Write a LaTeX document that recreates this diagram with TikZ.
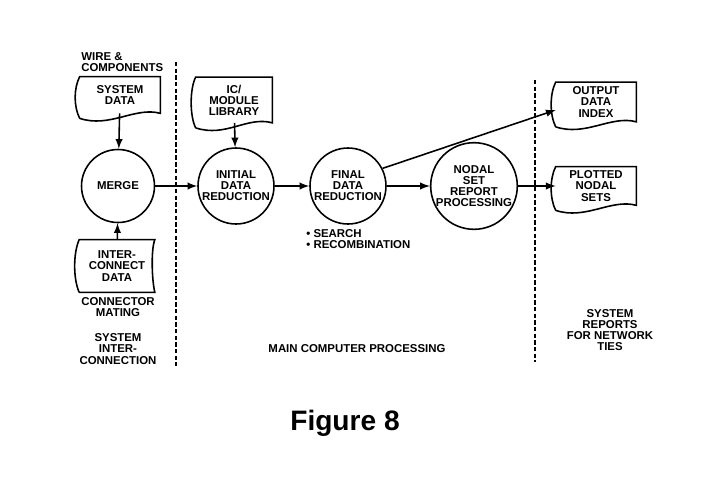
\documentclass[tikz,border=0pt]{standalone}
\usepackage{fontspec}
\setmainfont{Liberation Sans}
\usetikzlibrary{calc}
\usetikzlibrary{arrows,positioning}

\tikzset{
  lbl/.style={font=\fontsize{6.5}{6.3}\selectfont\bfseries,align=center,inner sep=0pt},
  proc/.style={circle,draw=black,line width=0.9pt,minimum size=1.52cm,inner sep=0pt,lbl},
  doc/.style={rectangle,minimum width=1.6cm,minimum height=0.72cm,inner sep=0pt,lbl},
  docline/.style={line width=0.9pt},
  flow/.style={->,>=latex,line width=0.9pt},
  border/.style={line width=1.4pt,dash pattern=on 2.5pt off 1.3pt}
}

%outline of a document symbol round a node
\newcommand{\docoutline}[1]{%
  \draw[docline] ($(#1.south west)+(0,5)$) .. controls +(-6,-12) and +(-6,12) .. (#1.north west)
    -- (#1.north east) -- (#1.south east)
    .. controls +(-25,-7) and +(30,10) .. ($(#1.south west)+(0,5)$);}

\begin{document}
\begin{tikzpicture}[x=0.02cm,y=-0.02cm]

\useasboundingbox (0,0) rectangle (725,481);

%%%%%%%%%%%%%%%%%%%%%

%system interconnection column
\node[lbl,align=left,anchor=west] at (81,62) (wire) {WIRE \&\\COMPONENTS};

\node[doc] at (120,95) (sysdata) {SYSTEM\\DATA};
\docoutline{sysdata}

\node[proc,minimum size=1.46cm] at (118,186) (merge) {MERGE};

\node[doc,minimum width=1.5cm,minimum height=1.04cm] at (117,266) (inter) {INTER-\\CONNECT\\DATA};
\draw[docline] (inter.south west) .. controls +(-6,-14) and +(-6,14) .. (inter.north west)
  -- (inter.north east) .. controls +(-4,10) and +(-3,-12) .. (inter.south east) -- (inter.south west);

\node[lbl] at (118,307) (mating) {CONNECTOR\\MATING};
\node[lbl] at (118,349) (sysinter) {SYSTEM\\INTER-\\CONNECTION};

\draw[flow] (sysdata) -- (merge);
\draw[flow] (inter) -- (merge);

%%%%%%%

%separators
\coordinate (LEFTTOP) at (176,62);
\coordinate (LEFTBOTTOM) at (176,366);
\coordinate (RIGHTTOP) at (535,80);
\coordinate (RIGHTBOTTOM) at (535,362);
\draw[border] (LEFTTOP) -- (LEFTBOTTOM);
\draw[border] (RIGHTTOP) -- (RIGHTBOTTOM);

%%%%%%%

%main computer processing
\node[doc,minimum width=1.52cm,minimum height=0.9cm] at (234,100) (library) {IC/\\MODULE\\LIBRARY};
\docoutline{library}

\node[proc] at (236,186) (initial) {INITIAL\\DATA\\REDUCTION};
\node[proc] at (348,186) (final) {FINAL\\DATA\\REDUCTION};
\node[proc] at (474,186) (nodal) {NODAL\\SET\\REPORT\\PROCESSING};

\node[lbl,align=left,anchor=north west] at (306,229) (steps) {\textbullet{} SEARCH\\\textbullet{} RECOMBINATION};

\node[lbl] at (357,349) (main) {MAIN COMPUTER PROCESSING};

\draw[flow] (merge.east) -- (initial.west);
\draw[flow] (library) -- (initial);
\draw[flow] (initial.east) -- (final.west);
\draw[flow] (final.east) -- (nodal.west);

%%%%%%%

%system reports
\node[doc,minimum height=0.78cm] at (596,102) (output) {OUTPUT\\DATA\\INDEX};
\docoutline{output}

\node[doc,minimum height=0.76cm] at (596,186) (plotted) {PLOTTED\\NODAL\\SETS};
\docoutline{plotted}

\node[lbl] at (610,330) (reports) {SYSTEM\\REPORTS\\FOR NETWORK\\TIES};

\draw[flow] (final.27) -- ($(output.west)+(0,8)$);
\draw[flow] (nodal.east) -- (plotted.west);

%%%%%%%%%%%%%%%%%%%%%%

\node[font=\fontsize{16}{18}\selectfont\bfseries] at (345,423) (caption) {Figure 8};

\end{tikzpicture}
\end{document}
